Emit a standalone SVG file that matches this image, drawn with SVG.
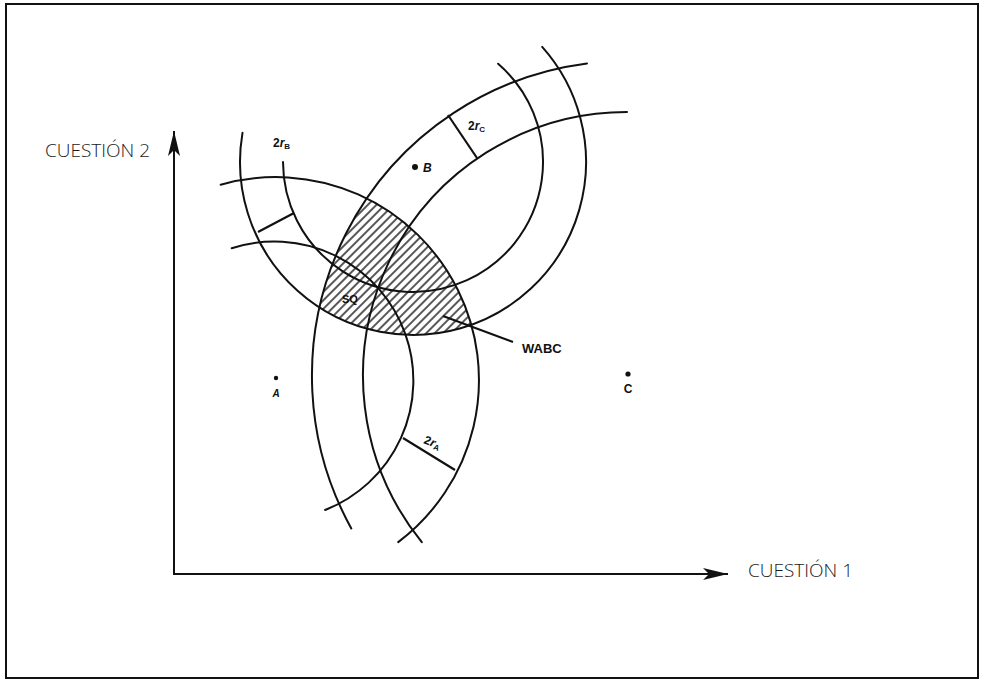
<svg xmlns="http://www.w3.org/2000/svg" width="987" height="684" viewBox="0 0 987 684">
  <style>
    .arc { fill: none; stroke: #111; stroke-width: 2; stroke-linecap: round; }
    .tick { fill: none; stroke: #111; stroke-width: 2.2; }
    .axis { fill: none; stroke: #111; stroke-width: 2; }
    .ax-label { font-family: "Open Sans", "Liberation Sans", sans-serif; font-size: 19px; font-weight: 300; fill: #1a1a1a; }
    .small { font-family: "Liberation Sans", Arial, sans-serif; font-weight: bold; fill: #111; }
  </style>
  <defs>
    <pattern id="hatch" width="6" height="10" patternUnits="userSpaceOnUse" patternTransform="rotate(45)">
      <line x1="3" y1="0" x2="3" y2="10" stroke="#111" stroke-width="1.4"/>
    </pattern>
    <clipPath id="cA"><circle cx="276" cy="380" r="203"/></clipPath>
    <clipPath id="cB"><circle cx="413" cy="162" r="173"/></clipPath>
    <clipPath id="cC"><circle cx="627" cy="376" r="315"/></clipPath>
    <marker id="arrow" viewBox="-25 -7 26 14" refX="0" refY="0" markerWidth="26" markerHeight="14" markerUnits="userSpaceOnUse" orient="auto">
      <path d="M0,0 L-25,-6 L-19,0 L-25,6 Z" fill="#111"/>
    </marker>
  </defs>

  <rect x="6" y="4" width="972" height="674" fill="#fff" stroke="#111" stroke-width="2"/>

  <g id="win-set">
    <g clip-path="url(#cA)">
      <g clip-path="url(#cB)">
        <rect x="280" y="180" width="220" height="170" fill="url(#hatch)" clip-path="url(#cC)"/>
      </g>
    </g>
  </g>

  <g id="connectors">
    <path id="arc-A-outer" class="arc" d="M220.7,184.7 A203,203 0 0 1 398.2,542.1"/>
    <path id="arc-A-inner" class="arc" d="M231.7,248.3 A139,139 0 0 1 325.1,510"/>
    <path id="arc-B-outer" class="arc" d="M542.2,46.9 A173,173 0 1 1 242.5,132.8"/>
    <path id="arc-B-inner" class="arc" d="M498.1,63.7 A130,130 0 1 1 283,162"/>
    <path id="arc-C-outer" class="arc" d="M587,63.5 A315,315 0 0 0 351.3,528.4"/>
    <path id="arc-C-inner" class="arc" d="M627,112 A264,264 0 0 0 421.8,542.1"/>
    <line class="tick" x1="258" y1="232" x2="294" y2="213"/>
    <line class="tick" x1="448" y1="115" x2="477" y2="158"/>
    <line class="tick" x1="403" y1="438" x2="455" y2="470"/>
    <line class="tick" x1="443" y1="316" x2="513" y2="342" stroke-width="1.8"/>
    <line class="axis" x1="174" y1="575" x2="174" y2="131" marker-end="url(#arrow)"/>
    <line class="axis" x1="173" y1="574" x2="728" y2="574" marker-end="url(#arrow)"/>
  </g>

  <g id="point-A">
    <circle cx="276" cy="378" r="2.2" fill="#111"/>
    <text class="small" x="276" y="397" font-size="10" font-style="italic" text-anchor="middle">A</text>
  </g>
  <g id="point-B">
    <circle cx="415" cy="167" r="3" fill="#111"/>
    <text class="small" x="423" y="172" font-size="12" font-style="italic">B</text>
  </g>
  <g id="point-C">
    <circle cx="628" cy="374" r="2.6" fill="#111"/>
    <text class="small" x="628" y="393" font-size="12" text-anchor="middle">C</text>
  </g>

  <g id="label-rB">
    <text class="small" x="273" y="147" font-size="12">2<tspan font-style="italic">r</tspan><tspan font-size="8" dy="2">B</tspan></text>
  </g>
  <g id="label-rC">
    <text class="small" x="468" y="130" font-size="12">2<tspan font-style="italic">r</tspan><tspan font-size="8" dy="2">C</tspan></text>
  </g>
  <g id="label-rA">
    <text class="small" x="423" y="443" font-size="12" transform="rotate(22 423 443)">2<tspan font-style="italic">r</tspan><tspan font-size="8" dy="2">A</tspan></text>
  </g>
  <g id="label-SQ">
    <text class="small" x="342" y="303" font-size="11">SQ</text>
  </g>
  <g id="label-WABC">
    <text class="small" x="522" y="353" font-size="13">WABC</text>
  </g>

  <g id="axis-labels">
    <text class="ax-label" x="45" y="157">CUESTIÓN 2</text>
    <text class="ax-label" x="748" y="577">CUESTIÓN 1</text>
  </g>
</svg>
